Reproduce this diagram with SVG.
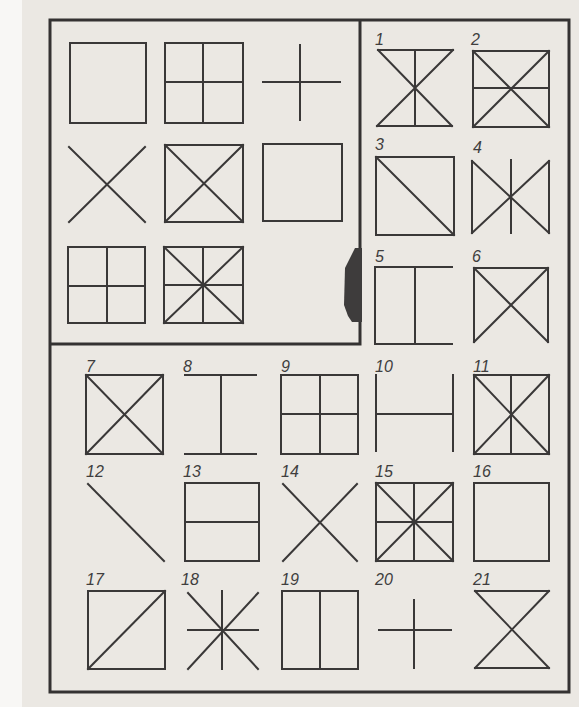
<svg xmlns="http://www.w3.org/2000/svg" width="579" height="707" viewBox="0 0 579 707">
<style>
.f{fill:none;stroke:#3a3838;stroke-width:2;stroke-linecap:square}
.fr{fill:none;stroke:#343232;stroke-width:3}
.lb{font-family:"Liberation Sans",Arial,sans-serif;font-style:italic;font-size:16px;fill:#403e3e}
</style>
<rect x="0" y="0" width="579" height="707" fill="#ebe8e3"/>
<rect x="0" y="0" width="22" height="707" fill="#f8f7f5"/>
<g id="frame">
<rect class="fr" x="50" y="20" width="519" height="672"/>
<path class="fr" d="M360 20V344H50"/>
<path d="M362 248H355L351 256L345 268L344 305L348 316L352 322H362Z" fill="#3e3c3c"/>
</g>
<g id="panel">
<g id="p1"><rect class="f" x="70" y="43" width="76" height="80"/></g>
<g id="p2"><rect class="f" x="165" y="43" width="78" height="80"/><path class="f" d="M203 43V123M165 82H243"/></g>
<g id="p3"><path class="f" d="M300 45V120M263 82H340"/></g>
<g id="p4"><path class="f" d="M69 147L145 222M145 147L69 222"/></g>
<g id="p5"><rect class="f" x="165" y="145" width="78" height="77"/><path class="f" d="M165 145L243 222M243 145L165 222"/></g>
<g id="p6"><rect class="f" x="263" y="144" width="79" height="77"/></g>
<g id="p7"><rect class="f" x="68" y="247" width="77" height="76"/><path class="f" d="M107 247V323M68 286H145"/></g>
<g id="p8"><rect class="f" x="164" y="247" width="79" height="76"/><path class="f" d="M203 247V323M164 285H243M164 247L243 323M243 247L164 323"/></g>
</g>
<g id="n1"><text class="lb" x="375" y="45">1</text><path class="f" d="M378 50H453M377 126H452M378 50L452 126M453 50L377 126M415 50V126"/></g>
<g id="n2"><text class="lb" x="471" y="45">2</text><rect class="f" x="473" y="51" width="76" height="76"/><path class="f" d="M473 88H549M473 51L549 127M549 51L473 127"/></g>
<g id="n3"><text class="lb" x="375" y="150">3</text><rect class="f" x="376" y="157" width="78" height="78"/><path class="f" d="M376 157L454 235"/></g>
<g id="n4"><text class="lb" x="473" y="153">4</text><path class="f" d="M472 161V233M549 161V233M472 161L549 233M549 161L472 233M511 160V233"/></g>
<g id="n5"><text class="lb" x="375" y="262">5</text><path class="f" d="M452 267H375V344H452M415 267V344"/></g>
<g id="n6"><text class="lb" x="472" y="262">6</text><path class="f" d="M474 342V268H548V342M474 268L548 342M548 268L474 342"/></g>
<g id="n7"><text class="lb" x="86" y="372">7</text><rect class="f" x="86" y="375" width="77" height="79"/><path class="f" d="M86 375L163 454M163 375L86 454"/></g>
<g id="n8"><text class="lb" x="183" y="372">8</text><path class="f" d="M185 375H256M185 454H256M221 375V454"/></g>
<g id="n9"><text class="lb" x="281" y="372">9</text><rect class="f" x="281" y="375" width="77" height="79"/><path class="f" d="M320 375V454M281 414H358"/></g>
<g id="n10"><text class="lb" x="375" y="372">10</text><path class="f" d="M376 375V451M453 375V451M376 414H453"/></g>
<g id="n11"><text class="lb" x="473" y="372">11</text><rect class="f" x="474" y="375" width="75" height="79"/><path class="f" d="M511 375V454M474 375L549 454M549 375L474 454"/></g>
<g id="n12"><text class="lb" x="86" y="477">12</text><path class="f" d="M88 484L164 561"/></g>
<g id="n13"><text class="lb" x="183" y="477">13</text><rect class="f" x="185" y="483" width="74" height="78"/><path class="f" d="M185 522H259"/></g>
<g id="n14"><text class="lb" x="281" y="477">14</text><path class="f" d="M283 484L357 561M357 484L283 561"/></g>
<g id="n15"><text class="lb" x="375" y="477">15</text><rect class="f" x="376" y="483" width="77" height="78"/><path class="f" d="M414 483V561M376 522H453M376 483L453 561M453 483L376 561"/><circle cx="414" cy="522" r="2.5" fill="#3a3838"/></g>
<g id="n16"><text class="lb" x="473" y="477">16</text><rect class="f" x="474" y="483" width="75" height="78"/></g>
<g id="n17"><text class="lb" x="86" y="585">17</text><rect class="f" x="88" y="591" width="77" height="78"/><path class="f" d="M88 669L165 591"/></g>
<g id="n18"><text class="lb" x="181" y="585">18</text><path class="f" d="M222 591V669M188 630H258M188 593L258 669M258 593L188 669"/></g>
<g id="n19"><text class="lb" x="281" y="585">19</text><rect class="f" x="282" y="591" width="76" height="78"/><path class="f" d="M320 591V669"/></g>
<g id="n20"><text class="lb" x="375" y="585">20</text><path class="f" d="M379 630H451M414 600V668"/></g>
<g id="n21"><text class="lb" x="473" y="585">21</text><path class="f" d="M475 591H549M475 668H549M475 591L549 668M549 591L475 668"/></g>
<g id="connectors"></g>
</svg>
